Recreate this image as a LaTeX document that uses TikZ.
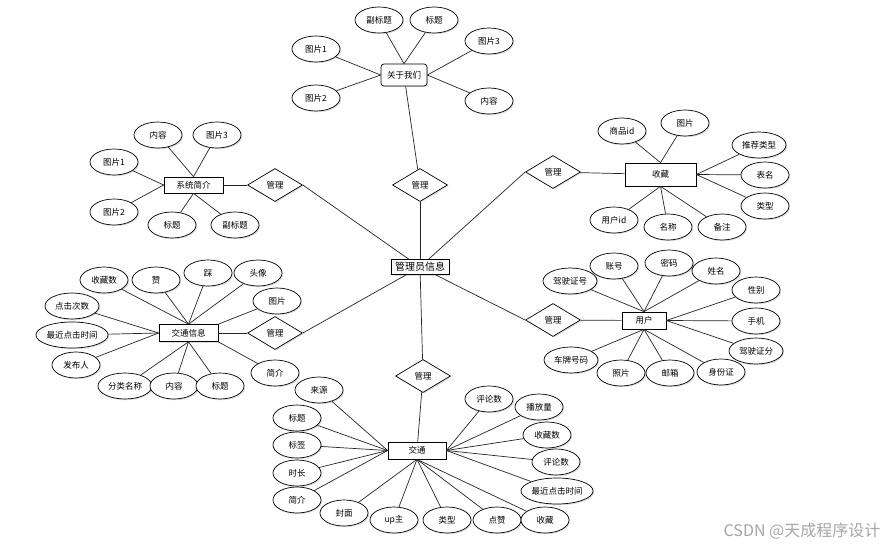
\documentclass[tikz,border=0pt]{standalone}
\usepackage{fontspec}
\newfontfamily\cjk{Noto Sans CJK SC}
\usetikzlibrary{shapes.geometric,shadows}
\tikzset{
  base/.style={draw=black, line width=0.7pt, fill=white, inner sep=0pt, font=\cjk\fontsize{8.5}{10}\selectfont,
    drop shadow={shadow xshift=1.2pt, shadow yshift=-1.2pt, opacity=0.25, fill=black!50}},
  attr/.style={base, ellipse, minimum width=48pt, minimum height=26pt},
  wattr/.style={attr, minimum width=54pt},
  xattr/.style={attr, minimum width=70pt},
  ent/.style={base, rectangle, minimum height=17pt},
  rel/.style={base, diamond, minimum width=55pt, minimum height=33pt},
  conn/.style={draw=black!85, line width=0.7pt}
}
\begin{document}
\begin{tikzpicture}[x=1pt,y=-1pt]
\useasboundingbox[fill=white] (0,0) rectangle (887,547);

% central
\node[ent, minimum width=58pt, minimum height=15pt, font=\cjk\fontsize{10}{12}\selectfont] (admin) at (420,267) {管理员信息};

% ---------- about us ----------
\node[ent, rounded corners=3pt, minimum width=46pt, minimum height=22pt] (about) at (404,75) {关于我们};
\node[attr] (ab1) at (379,20) {副标题};
\node[attr] (ab2) at (434,20) {标题};
\node[attr] (ab3) at (316,49) {图片1};
\node[attr] (ab4) at (489,41) {图片3};
\node[attr] (ab5) at (316,98) {图片2};
\node[attr] (ab6) at (489,101) {内容};
\node[rel] (r1) at (420,185) {管理};
\draw[conn] (ab1) -- (about.north);
\draw[conn] (ab2) -- (about.north);
\draw[conn] (ab3) -- (about.west);
\draw[conn] (ab5) -- (about.west);
\draw[conn] (ab4) -- (about.east);
\draw[conn] (ab6) -- (about.east);
\draw[conn] (about) -- (r1);
\draw[conn] (r1) -- (admin);

% ---------- system intro ----------
\node[ent, minimum width=59pt, minimum height=16pt] (sys) at (193.5,185) {系统简介};
\node[attr] (s1) at (158,135) {内容};
\node[attr] (s2) at (217,135) {图片3};
\node[attr] (s3) at (114,162) {图片1};
\node[attr] (s4) at (114,212) {图片2};
\node[attr] (s5) at (172,225) {标题};
\node[attr] (s6) at (235,225) {副标题};
\node[rel] (r2) at (275,185) {管理};
\draw[conn] (s1) -- (sys.north);
\draw[conn] (s2) -- (sys.north);
\draw[conn] (s3) -- (sys.west);
\draw[conn] (s4) -- (sys.west);
\draw[conn] (s5) -- (sys.south);
\draw[conn] (s6) -- (sys.south);
\draw[conn] (sys) -- (r2);
\draw[conn] (r2.east) -- (admin);

% ---------- favourites ----------
\node[ent, minimum width=71pt, minimum height=23pt] (fav) at (660.5,174.5) {收藏};
\node[attr] (f1) at (622,131) {商品id};
\node[attr] (f2) at (685,123) {图片};
\node[wattr] (f3) at (759,145) {推荐类型};
\node[attr] (f4) at (765,175) {表名};
\node[attr] (f5) at (765,206) {类型};
\node[attr] (f6) at (614,220) {用户id};
\node[attr] (f7) at (668,227) {名称};
\node[attr] (f8) at (722,227) {备注};
\node[rel] (r3) at (553,172) {管理};
\draw[conn] (f1) -- (fav.north);
\draw[conn] (f2) -- (fav.north);
\draw[conn] (f3) -- (fav.east);
\draw[conn] (f4) -- (fav.east);
\draw[conn] (f5) -- (fav.east);
\draw[conn] (f6) -- (fav.south);
\draw[conn] (f7) -- (fav.south);
\draw[conn] (f8) -- (fav.south);
\draw[conn] (r3) -- (fav);
\draw[conn] (r3.west) -- (admin);

% ---------- traffic info ----------
\node[ent, minimum width=59pt, minimum height=17pt] (info) at (188.5,333) {交通信息};
\node[attr] (i1) at (104,280) {收藏数};
\node[attr] (i2) at (156,280) {赞};
\node[attr] (i3) at (208,273) {踩};
\node[attr] (i4) at (258,273) {头像};
\node[attr] (i5) at (277,301) {图片};
\node[wattr] (i6) at (72,306) {点击次数};
\node[xattr] (i7) at (72,335) {最近点击时间};
\node[attr] (i8) at (76,365) {发布人};
\node[wattr] (i9) at (125,386) {分类名称};
\node[attr] (i10) at (174,386) {内容};
\node[attr] (i11) at (220,386) {标题};
\node[attr] (i12) at (275,373) {简介};
\node[rel] (r4) at (275,333) {管理};
\draw[conn] (i1) -- (info.north);
\draw[conn] (i2) -- (info.north);
\draw[conn] (i3) -- (info.north);
\draw[conn] (i4) -- (info.north);
\draw[conn] (i5) -- (info.north east);
\draw[conn] (i6) -- (info.west);
\draw[conn] (i7) -- (info.west);
\draw[conn] (i8) -- (info.west);
\draw[conn] (i9) -- (info.south);
\draw[conn] (i10) -- (info.south);
\draw[conn] (i11) -- (info.south);
\draw[conn] (i12) -- (info.south east);
\draw[conn] (info) -- (r4);
\draw[conn] (r4.east) -- (admin);

% ---------- user ----------
\node[ent, minimum width=44pt, minimum height=17pt] (user) at (644,320.5) {用户};
\node[wattr] (u1) at (570,281) {驾驶证号};
\node[attr] (u2) at (614,266) {账号};
\node[attr] (u3) at (669,263) {密码};
\node[attr] (u4) at (716,271) {姓名};
\node[attr] (u5) at (756,290) {性别};
\node[attr] (u6) at (756,321) {手机};
\node[wattr] (u7) at (756,351) {驾驶证分};
\node[wattr] (u8) at (571,360) {车牌号码};
\node[attr] (u9) at (621,373) {照片};
\node[attr] (u10) at (670,373) {邮箱};
\node[attr] (u11) at (721,372) {身份证};
\node[rel] (r5) at (553,320) {管理};
\draw[conn] (u1) -- (user.north);
\draw[conn] (u2) -- (user.north);
\draw[conn] (u3) -- (user.north);
\draw[conn] (u4) -- (user.north);
\draw[conn] (u5) -- (user.east);
\draw[conn] (u6) -- (user.east);
\draw[conn] (u7) -- (user.east);
\draw[conn] (u8) -- (user.south);
\draw[conn] (u9) -- (user.south);
\draw[conn] (u10) -- (user.south);
\draw[conn] (u11) -- (user.south);
\draw[conn] (r5) -- (user);
\draw[conn] (r5.west) -- (admin);

% ---------- traffic ----------
\node[ent, minimum width=58pt, minimum height=17pt] (traffic) at (417,450.5) {交通};
\node[attr] (t1) at (319,390) {来源};
\node[attr] (t2) at (297,418) {标题};
\node[attr] (t3) at (297,445) {标签};
\node[attr] (t4) at (297,473) {时长};
\node[attr] (t5) at (297,500) {简介};
\node[attr] (t6) at (344,513) {封面};
\node[attr] (t7) at (394,520) {up主};
\node[attr] (t8) at (447,520) {类型};
\node[attr] (t9) at (497,520) {点赞};
\node[attr] (t10) at (545,520) {收藏};
\node[xattr] (t11) at (557,491) {最近点击时间};
\node[attr] (t12) at (556,462) {评论数};
\node[attr] (t13) at (547,435) {收藏数};
\node[attr] (t14) at (539,407) {播放量};
\node[attr] (t15) at (489,399) {评论数};
\node[rel] (r6) at (423,376) {管理};
\draw[conn] (t1) -- (traffic.west);
\draw[conn] (t2) -- (traffic.west);
\draw[conn] (t3) -- (traffic.west);
\draw[conn] (t4) -- (traffic.west);
\draw[conn] (t5) -- (traffic.west);
\draw[conn] (t6) -- (traffic.south);
\draw[conn] (t7) -- (traffic.south);
\draw[conn] (t8) -- (traffic.south);
\draw[conn] (t9) -- (traffic.south);
\draw[conn] (t10) -- (traffic.south);
\draw[conn] (t11) -- (traffic.east);
\draw[conn] (t12) -- (traffic.east);
\draw[conn] (t13) -- (traffic.east);
\draw[conn] (t14) -- (traffic.east);
\draw[conn] (t15) -- (traffic.east);
\draw[conn] (admin) -- (r6);
\draw[conn] (r6) -- (traffic);

% watermark
\node[font=\cjk\fontsize{16}{18}\selectfont, text=black!35, inner sep=0pt] (wm) at (802,531) {CSDN @天成程序设计};
\end{tikzpicture}
\end{document}
